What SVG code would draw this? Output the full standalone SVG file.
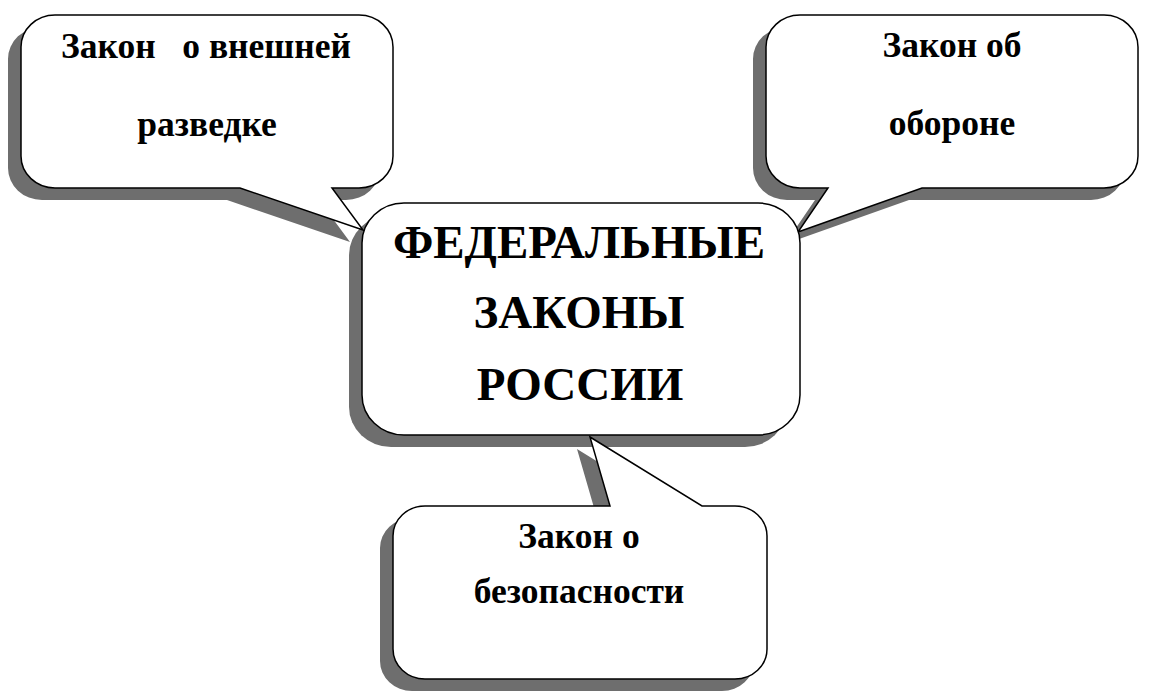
<svg xmlns="http://www.w3.org/2000/svg" width="1160" height="698" viewBox="0 0 1160 698">
<style>
  .shadow { fill: #6e6e6e; }
  .bubble { fill: #ffffff; stroke: #000000; stroke-width: 1.5; stroke-linejoin: miter; }
  .t { font-family: "Liberation Serif", "Times New Roman", serif; font-weight: bold; fill: #000000; text-anchor: middle; white-space: pre; }
  .s { font-size: 35.5px; }
  .b { font-size: 47px; }
</style>
<defs>
  <path id="p-left" d="M 55,15 H 359 A 34 32 0 0 1 393,47 V 156 A 34 32 0 0 1 359,188 H 332 L 363,230 L 240,188 H 55 A 34 32 0 0 1 21,156 V 47 A 34 32 0 0 1 55,15 Z"/>
  <path id="p-right" d="M 800,15 H 1104 A 34 32 0 0 1 1138,47 V 156 A 34 32 0 0 1 1104,188 H 922 L 798,232 L 828,188 H 800 A 34 32 0 0 1 766,156 V 47 A 34 32 0 0 1 800,15 Z"/>
  <path id="p-bottom" d="M 393,536 A 32 30 0 0 1 425,506 H 610 L 590,437 L 702,506 H 735 A 32 30 0 0 1 767,536 V 649 A 32 30 0 0 1 735,679 H 425 A 32 30 0 0 1 393,649 Z"/>
  <rect id="p-center" x="362" y="203" width="438" height="232" rx="42" ry="40"/>
</defs>
<rect width="1160" height="698" fill="#ffffff"/>
<g id="shadows" transform="translate(-13,12)">
  <use href="#p-left" class="shadow"/>
  <use href="#p-right" class="shadow"/>
  <use href="#p-bottom" class="shadow"/>
  <use href="#p-center" class="shadow"/>
</g>
<g id="connectors"></g>
<g id="node-vneshnyaya-razvedka">
  <use href="#p-left" class="bubble"/>
  <text class="t s" x="206" y="58">Закон   о внешней</text>
  <text class="t s" x="207" y="136">разведке</text>
</g>
<g id="node-oborona">
  <use href="#p-right" class="bubble"/>
  <text class="t s" x="952" y="57">Закон об</text>
  <text class="t s" x="952" y="135">обороне</text>
</g>
<g id="node-bezopasnost">
  <use href="#p-bottom" class="bubble"/>
  <text class="t s" x="579" y="548">Закон о</text>
  <text class="t s" x="579" y="603">безопасности</text>
</g>
<g id="node-federal">
  <use href="#p-center" class="bubble"/>
  <text class="t b" x="579" y="258">ФЕДЕРАЛЬНЫЕ</text>
  <text class="t b" x="579" y="328">ЗАКОНЫ</text>
  <text class="t b" x="580" y="400">РОССИИ</text>
</g>
</svg>
